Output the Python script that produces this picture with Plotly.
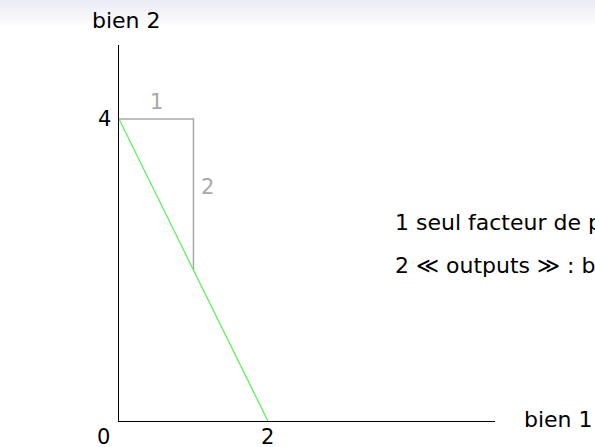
import plotly.graph_objects as go

# data
frontier_x = [0, 2]
frontier_y = [4, 0]
tri_x = [0, 1, 1]
tri_y = [4, 4, 2]
xtick_vals = [2]
xtick_text = ["2"]
ytick_vals = [4]
ytick_text = ["4"]
text_lines = ["1 seul facteur de production : travail",
              "2 \u226a outputs \u226b : biens 1 et 2"]

FONT = "DejaVu Sans"
FS = 21
GREEN = "#55f055"
GRAY = "#a8a8a8"

fig = go.Figure()
fig.add_trace(go.Scatter(x=tri_x, y=tri_y, mode="lines",
                         line=dict(color=GRAY, width=1.5), hoverinfo="skip"))
fig.add_trace(go.Scatter(x=frontier_x, y=frontier_y, mode="lines",
                         line=dict(color=GREEN, width=1.2), hoverinfo="skip"))

L, R, T, B = 119, 100, 45, 26
W, H = 595, 447
pw, ph = W - L - R, H - T - B

# header gradient
shapes = []
n = 13
for i in range(n):
    y0p = i * 2
    frac = i / n
    c0 = (235, 235, 245)
    col = tuple(int(c0[k] + (255 - c0[k]) * frac) for k in range(3))
    shapes.append(dict(type="rect", xref="paper", yref="paper",
                       x0=-L / pw, x1=(W - L) / pw,
                       y0=(H - B - (y0p + 2)) / ph, y1=(H - B - y0p) / ph,
                       fillcolor="rgb(%d,%d,%d)" % col, line=dict(width=0), layer="below"))

def f(size=FS, color="black"):
    return dict(size=size, color=color, family=FONT)

def a(**kw):
    d = dict(showarrow=False, xanchor="center", yanchor="middle")
    d.update(kw)
    return d

ann = []
for v, t in zip(xtick_vals, xtick_text):
    ann.append(a(x=v, y=0, xref="x", yref="y", text=t, yshift=-16, font=f()))
for v, t in zip(ytick_vals, ytick_text):
    ann.append(a(x=0, y=v, xref="x", yref="y", text=t, xshift=-15, font=f()))
ann.append(a(x=0, y=0, xref="x", yref="y", text="0", xshift=-16, yshift=-16, font=f()))
ann.append(a(x=0.021, y=1.066, xref="paper", yref="paper", text="bien 2", font=f(22)))
ann.append(a(x=1.072, y=0.005, xref="paper", yref="paper", text="bien 1",
             xanchor="left", font=f(22)))
ann.append(a(x=-0.994, y=3.48, xref="x", yref="y", text="pays A", font=f(22, GREEN)))
ann.append(a(x=0.51, y=4.225, xref="x", yref="y", text="1", font=f(FS, GRAY)))
ann.append(a(x=1.195, y=3.10, xref="x", yref="y", text="2", font=f(FS, GRAY)))
for i, t in enumerate(text_lines):
    ann.append(a(x=3.68, y=2.63 - i * 0.565, xref="x", yref="y", text=t,
                 xanchor="left", font=f(22)))

fig.update_layout(
    width=W, height=H,
    margin=dict(l=L, r=R, t=T, b=B, autoexpand=False),
    paper_bgcolor="white", plot_bgcolor="white",
    showlegend=False,
    shapes=shapes,
    annotations=ann,
    xaxis=dict(range=[0, 5.05], showgrid=False, zeroline=False, showline=True,
               linecolor="black", linewidth=1.3, showticklabels=False, ticks=""),
    yaxis=dict(range=[0, 4.98], showgrid=False, zeroline=False, showline=True,
               linecolor="black", linewidth=1.3, showticklabels=False, ticks=""),
)
fig.write_html("out.html", config={"displayModeBar": False},
               post_script="document.body.style.margin='0';document.body.style.overflow='hidden';")
